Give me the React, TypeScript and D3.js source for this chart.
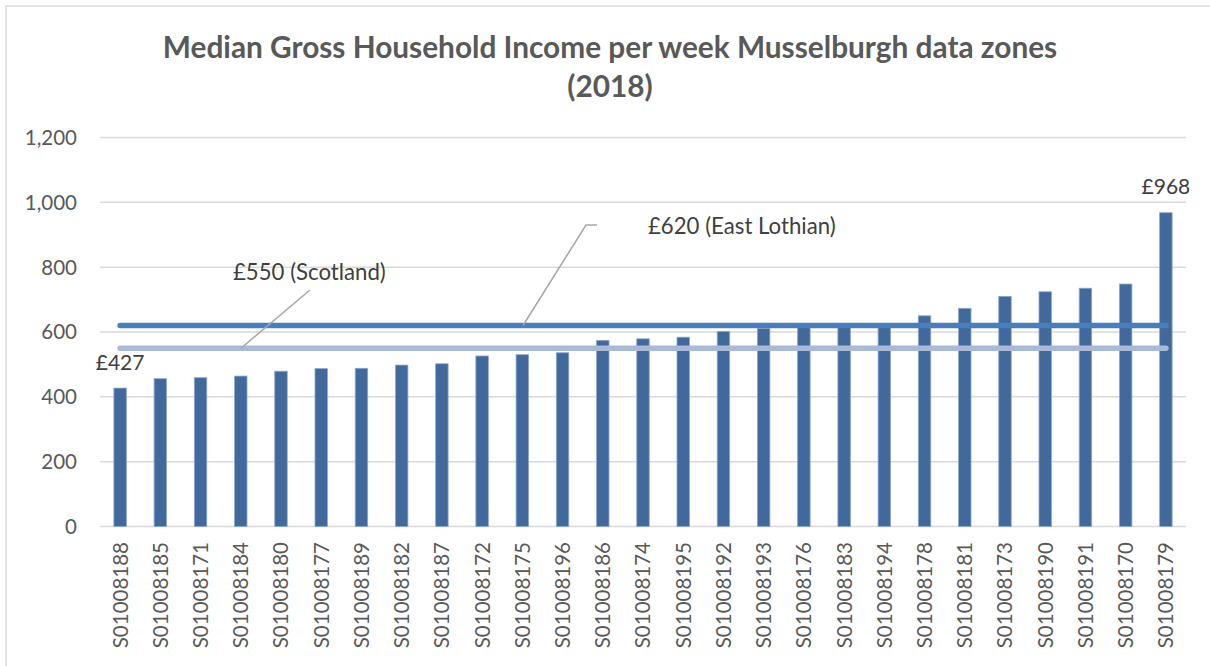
import React from "react";
import * as d3 from "d3";

const categories = [
  "S01008188", "S01008185", "S01008171", "S01008184", "S01008180", "S01008177",
  "S01008189", "S01008182", "S01008187", "S01008172", "S01008175", "S01008196",
  "S01008186", "S01008174", "S01008195", "S01008192", "S01008193", "S01008176",
  "S01008183", "S01008194", "S01008178", "S01008181", "S01008173", "S01008190",
  "S01008191", "S01008170", "S01008179",
];
const incomes = [
  427, 456, 459, 464, 479, 487, 488, 498, 502, 526, 530, 536, 574, 579, 584, 602,
  611, 614, 616, 619, 650, 673, 710, 724, 735, 748, 968,
];
const scotlandValue = 550;
const eastLothianValue = 620;
const yTicks = [0, 200, 400, 600, 800, 1000, 1200];
const titleLines = ["Median Gross Household Income per week Musselburgh data zones", "(2018)"];

const W = 1210;
const H = 666;
const FONT = "Lato, 'Open Sans', sans-serif";

export default function App() {
  const x = d3.scaleBand<string>().domain(categories).range([100, 1186]).paddingInner(0.69).paddingOuter(0.345);
  const y = d3.scaleLinear().domain([0, 1200]).range([526.5, 137.5]);
  const cx = (c: string) => (x(c) as number) + x.bandwidth() / 2;
  const first = cx(categories[0]);
  const last = cx(categories[categories.length - 1]);
  const fmt = d3.format(",");

  return (
    <div style={{ position: "fixed", left: 0, top: 0 }}>
      <svg width={W} height={H} style={{ display: "block", background: "#fff" }}>
        <rect x={6} y={6} width={W + 20} height={H + 20} fill="#fff" stroke="#d9d9d9" strokeWidth={1.5} />
        {titleLines.map((t, i) => (
          <text key={t} x={610} y={58 + i * 39} textAnchor="middle" fontFamily={FONT} fontWeight="bold"
            fontSize={29.8} fill="#595959">{t}</text>
        ))}
        {yTicks.map((t) => (
          <g key={t}>
            <line x1={100} x2={1186} y1={y(t)} y2={y(t)} stroke="#d9d9d9" strokeWidth={1.5} />
            <text x={77} y={y(t)} dy="0.36em" textAnchor="end" fontFamily={FONT} fontSize={20.5} fill="#595959">
              {fmt(t)}
            </text>
          </g>
        ))}
        {categories.map((c, i) => (
          <rect key={c} x={x(c)} y={y(incomes[i])} width={x.bandwidth()} height={y(0) - y(incomes[i])}
            fill="#41699c" stroke="#8ea8cc" strokeWidth={0.8} />
        ))}
        {categories.map((c) => (
          <text key={c} transform={`translate(${cx(c)},542) rotate(-90)`} textAnchor="end" dy="0.36em"
            fontFamily={FONT} fontSize={20.5} fill="#595959">{c}</text>
        ))}
        <line x1={first} x2={last} y1={y(eastLothianValue)} y2={y(eastLothianValue)} stroke="#4a7ebb"
          strokeWidth={5.5} strokeLinecap="round" />
        <line x1={first} x2={last} y1={y(scotlandValue)} y2={y(scotlandValue)} stroke="#a9b9d8"
          strokeWidth={5.5} strokeLinecap="round" />
        {/* leader lines */}
        <polyline points={`${241},${y(scotlandValue)} 310,290`} fill="none" stroke="#a6a6a6" strokeWidth={1.5} />
        <polyline points={`523,${y(eastLothianValue)} 586,225 597,225`} fill="none" stroke="#a6a6a6" strokeWidth={1.5} />
        <text x={233} y={280} fontFamily={FONT} fontSize={22.2} fill="#404040">£550 (Scotland)</text>
        <text x={648} y={234} fontFamily={FONT} fontSize={22.2} fill="#404040">£620 (East Lothian)</text>
        <text x={first} y={370} textAnchor="middle" fontFamily={FONT} fontSize={21} fill="#404040">
          {"£" + incomes[0]}
        </text>
        <text x={last} y={194} textAnchor="middle" fontFamily={FONT} fontSize={21} fill="#404040">
          {"£" + incomes[incomes.length - 1]}
        </text>
      </svg>
    </div>
  );
}
